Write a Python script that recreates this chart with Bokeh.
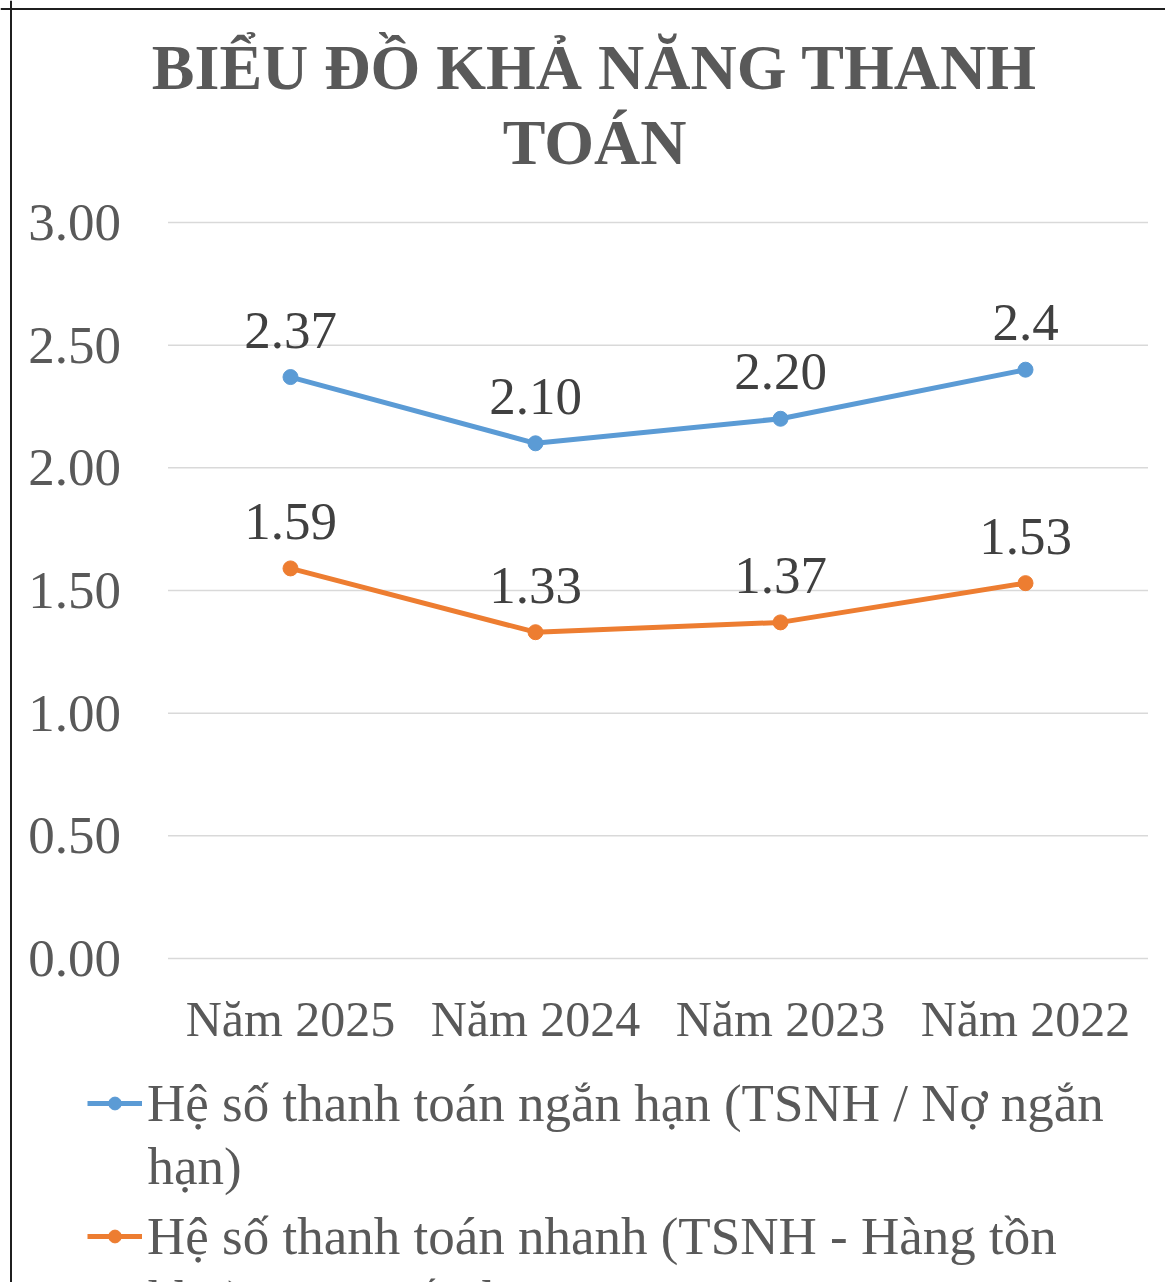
from bokeh.plotting import figure
from bokeh.models import (Range1d, FixedTicker, NumeralTickFormatter, LinearAxis,
                          Label, Legend, LegendItem, ColumnDataSource, Span)
from bokeh.core.properties import value
from bokeh.embed import file_html
from bokeh.resources import INLINE

# ---- data ----
categories = ["Năm 2025", "Năm 2024", "Năm 2023", "Năm 2022"]
current_ratio = [2.37, 2.10, 2.20, 2.40]
current_labels = ["2.37", "2.10", "2.20", "2.4"]
quick_ratio = [1.59, 1.33, 1.37, 1.53]
quick_labels = ["1.59", "1.33", "1.37", "1.53"]
y_ticks = [0.0, 0.5, 1.0, 1.5, 2.0, 2.5, 3.0]
title_lines = ["BIỂU ĐỒ KHẢ NĂNG THANH", "TOÁN"]
legend_lines = [
    ["Hệ số thanh toán ngắn hạn (TSNH / Nợ ngắn", "hạn)"],
    ["Hệ số thanh toán nhanh (TSNH - Hàng tồn", "kho) / Nợ ngắn hạn"],
]

FONT = "Liberation Serif"
BLUE = "#5B9BD5"
ORANGE = "#ED7D31"
W, H = 1165, 1282

xs = list(range(len(categories)))
src1 = ColumnDataSource(dict(x=xs, y=current_ratio, t=current_labels))
src2 = ColumnDataSource(dict(x=xs, y=quick_ratio, t=quick_labels))

# the plotting frame covers the whole canvas; axes are pinned inside it
p = figure(x_range=Range1d(-1.1837, 3.5714), y_range=Range1d(-1.3207, 3.9049),
           width=W, height=H, output_backend="svg", toolbar_location=None,
           min_border=0, x_axis_type=None, y_axis_type=None)
p.outline_line_color = None
p.xgrid.visible = False
p.ygrid.visible = False

xaxis = LinearAxis(fixed_location=0, ticker=FixedTicker(ticks=xs),
                   major_label_overrides={i: c for i, c in zip(xs, categories)})
yaxis = LinearAxis(fixed_location=-0.5, ticker=FixedTicker(ticks=y_ticks),
                   formatter=NumeralTickFormatter(format="0.00"))
for ax in (xaxis, yaxis):
    ax.axis_line_color = None
    ax.major_tick_line_color = None
    ax.minor_tick_line_color = None
    ax.major_tick_out = 0
    ax.major_tick_in = 0
    ax.major_label_text_font = FONT
    ax.major_label_text_color = "#595959"
xaxis.major_label_text_font_size = "50px"
yaxis.major_label_text_font_size = "53px"
xaxis.major_label_standoff = 33
yaxis.major_label_standoff = 47
p.add_layout(xaxis, "below")
p.add_layout(yaxis, "left")

# horizontal gridlines across the category band
n = len(y_ticks)
p.segment(x0=[-0.5] * n, x1=[len(categories) - 0.5] * n, y0=y_ticks, y1=y_ticks,
          line_color="#d9d9d9", line_width=1.5)

# series
r1 = p.line("x", "y", source=src1, line_width=5, line_color=BLUE)
s1 = p.scatter("x", "y", source=src1, size=15, marker="circle", fill_color=BLUE, line_color=BLUE)
r2 = p.line("x", "y", source=src2, line_width=5, line_color=ORANGE)
s2 = p.scatter("x", "y", source=src2, size=15, marker="circle", fill_color=ORANGE, line_color=ORANGE)

for src in (src1, src2):
    p.text("x", "y", text="t", source=src, y_offset=-47, text_align="center",
           text_baseline="middle", text_font=value(FONT), text_font_size="53px",
           text_color="#404040")

# chart border: only its left and top edges fall inside the picture
p.add_layout(Span(location=10.5, dimension="height", location_units="screen",
                  line_color="#1f1f1f", line_width=2))
p.add_layout(Span(location=H - 8.5, dimension="width", location_units="screen",
                  line_color="#1f1f1f", line_width=2))

# title
title_y = [H - 66.5, H - 141.5]
for line, ty in zip(title_lines, title_y):
    p.add_layout(Label(x=594, y=ty, x_units="screen", y_units="screen", text=line,
                       text_align="center", text_baseline="middle", text_font=FONT,
                       text_font_style="bold", text_font_size="64px", text_color="#595959"))

# legend
legend = Legend(items=[LegendItem(label=legend_lines[0][0], renderers=[r1, s1]),
                       LegendItem(label=legend_lines[1][0], renderers=[r2, s2])],
                location=(87, 16), orientation="vertical",
                label_text_font=FONT, label_text_font_size="53px", label_text_color="#595959",
                glyph_width=55, glyph_height=32, label_height=60, label_standoff=5,
                spacing=73, padding=0, margin=0,
                border_line_alpha=0, background_fill_alpha=0)
p.add_layout(legend)

cont_y = [H - 1165, H - 1298]
for lines, cy in zip(legend_lines, cont_y):
    p.add_layout(Label(x=147, y=cy, x_units="screen", y_units="screen", text=lines[1],
                       text_align="left", text_baseline="middle", text_font=FONT,
                       text_font_size="53px", text_color="#595959"))

open("out.html", "w").write(file_html(p, INLINE))
